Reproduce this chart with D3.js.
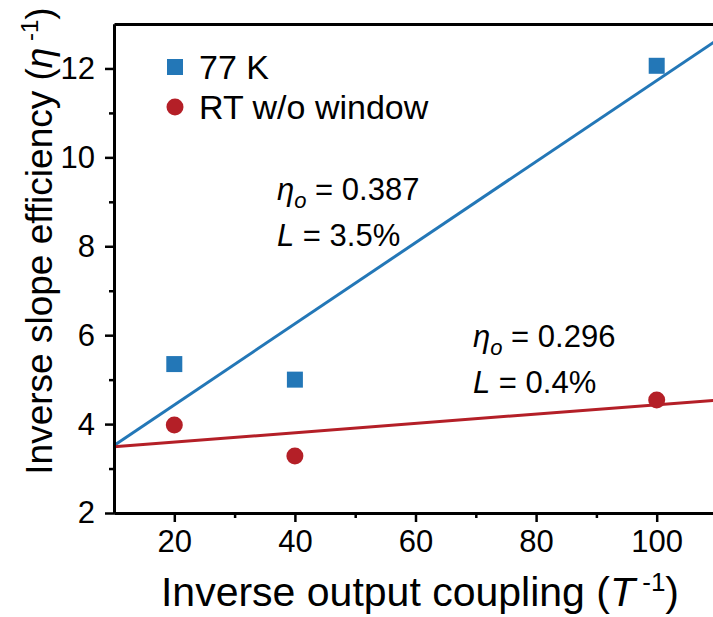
<!DOCTYPE html>
<html>
<head>
<meta charset="utf-8">
<script src="https://cdn.jsdelivr.net/npm/d3@7"></script>
<style>
  body { margin: 0; background: #fff; }
  svg text { font-family: "Liberation Sans", Arial, sans-serif; fill: #000; }
</style>
</head>
<body>
<svg id="plot" width="713" height="617"></svg>
<script>
// measured points
var couplingX = [20, 40, 100]
var eff77K = [5.35, 5.0, 12.06]
var effRT = [3.98, 3.28, 4.54]

// linear fits, endpoints
var fitX = [10, 110]
var fit77K = [3.52, 12.64]
var fitRT = [3.49, 4.54]

var xTicks = [20, 40, 60, 80, 100]
var xMinor = [30, 50, 70, 90]
var yTicks = [2, 4, 6, 8, 10, 12]
var yMinor = [3, 5, 7, 9, 11]

var blue = "#2377b7", red = "#b41f27"

var x = d3.scaleLinear().domain([10, 110]).range([114, 717])
var y = d3.scaleLinear().domain([2, 13]).range([513, 24])

var svg = d3.select("svg#plot")

// fit lines
var line = d3.line()
  .x(d => x(d[0]))
  .y(d => y(d[1]))

svg.append("path")
  .datum(fitX.map((v, i) => [v, fit77K[i]]))
  .attr("fill", "none").attr("stroke", blue).attr("stroke-width", 3)
  .attr("d", line)

svg.append("path")
  .datum(fitX.map((v, i) => [v, fitRT[i]]))
  .attr("fill", "none").attr("stroke", red).attr("stroke-width", 3)
  .attr("d", line)

// points
svg.selectAll("rect.p77")
  .data(couplingX.map((v, i) => [v, eff77K[i]]))
  .enter().append("rect")
  .attr("class", "p77")
  .attr("x", d => x(d[0]) - 8)
  .attr("y", d => y(d[1]) - 8)
  .attr("width", 16).attr("height", 16)
  .attr("fill", blue)

svg.selectAll("circle.prt")
  .data(couplingX.map((v, i) => [v, effRT[i]]))
  .enter().append("circle")
  .attr("class", "prt")
  .attr("cx", d => x(d[0]))
  .attr("cy", d => y(d[1]))
  .attr("r", 8.5)
  .attr("fill", red)

// axes
svg.append("g")
  .attr("transform", "translate(0," + y(2) + ")")
  .call(d3.axisBottom(x).tickValues(xTicks).tickSize(9).tickSizeOuter(0).tickPadding(8))
svg.append("g")
  .attr("transform", "translate(0," + y(2) + ")")
  .call(d3.axisBottom(x).tickValues(xMinor).tickSize(5).tickSizeOuter(0).tickFormat(""))

svg.append("g")
  .attr("transform", "translate(" + x(10) + ",0)")
  .call(d3.axisLeft(y).tickValues(yTicks).tickSize(9).tickSizeOuter(0).tickPadding(10))
svg.append("g")
  .attr("transform", "translate(" + x(10) + ",0)")
  .call(d3.axisLeft(y).tickValues(yMinor).tickSize(5).tickSizeOuter(0).tickFormat(""))

// top frame line
svg.append("g")
  .attr("transform", "translate(0," + y(13) + ")")
  .call(d3.axisTop(x).tickValues([]).tickSizeOuter(0))

svg.selectAll(".domain").attr("stroke-width", 3).attr("stroke", "#000")
svg.selectAll(".tick line").attr("stroke-width", 2.5).attr("stroke", "#000")
svg.selectAll(".tick text").style("font-size", "31px").attr("fill", "#000")
  .style("font-family", "'Liberation Sans', Arial, sans-serif")

// axis titles
var xt = svg.append("text")
  .attr("x", 420).attr("y", 606)
  .attr("text-anchor", "middle")
  .style("font-size", "41px")
xt.append("tspan").text("Inverse output coupling (")
xt.append("tspan").style("font-style", "italic").text("T")
xt.append("tspan").attr("dy", -15).style("font-size", "26px").text(" -1")
xt.append("tspan").attr("dy", 15).text(")")

var yt = svg.append("text")
  .attr("transform", "translate(52,241) rotate(-90)")
  .attr("text-anchor", "middle")
  .style("font-size", "37px")
yt.append("tspan").text("Inverse slope efficiency (")
yt.append("tspan").style("font-style", "italic").text("η")
yt.append("tspan").attr("dy", -14).style("font-size", "24px").text(" -1")
yt.append("tspan").attr("dy", 14).text(")")

// legend
svg.append("rect").attr("x", 167).attr("y", 59).attr("width", 16).attr("height", 16).attr("fill", blue)
svg.append("circle").attr("cx", 175).attr("cy", 107).attr("r", 8.5).attr("fill", red)
svg.append("text").attr("x", 199).attr("y", 79).style("font-size", "34px").text("77 K")
svg.append("text").attr("x", 199).attr("y", 119).style("font-size", "34px").text("RT w/o window")

// fit annotations
function note(px, py, eta, loss) {
  var t1 = svg.append("text").attr("x", px).attr("y", py).style("font-size", "31px")
  t1.append("tspan").style("font-style", "italic").text("η")
  t1.append("tspan").attr("dy", 8).style("font-style", "italic").style("font-size", "22px").text("o")
  t1.append("tspan").attr("dy", -8).text(" = " + eta)
  var t2 = svg.append("text").attr("x", px).attr("y", py + 46).style("font-size", "31px")
  t2.append("tspan").style("font-style", "italic").text("L")
  t2.append("tspan").text(" = " + loss)
}
note(277, 200, "0.387", "3.5%")
note(473, 347, "0.296", "0.4%")
</script>
</body>
</html>
